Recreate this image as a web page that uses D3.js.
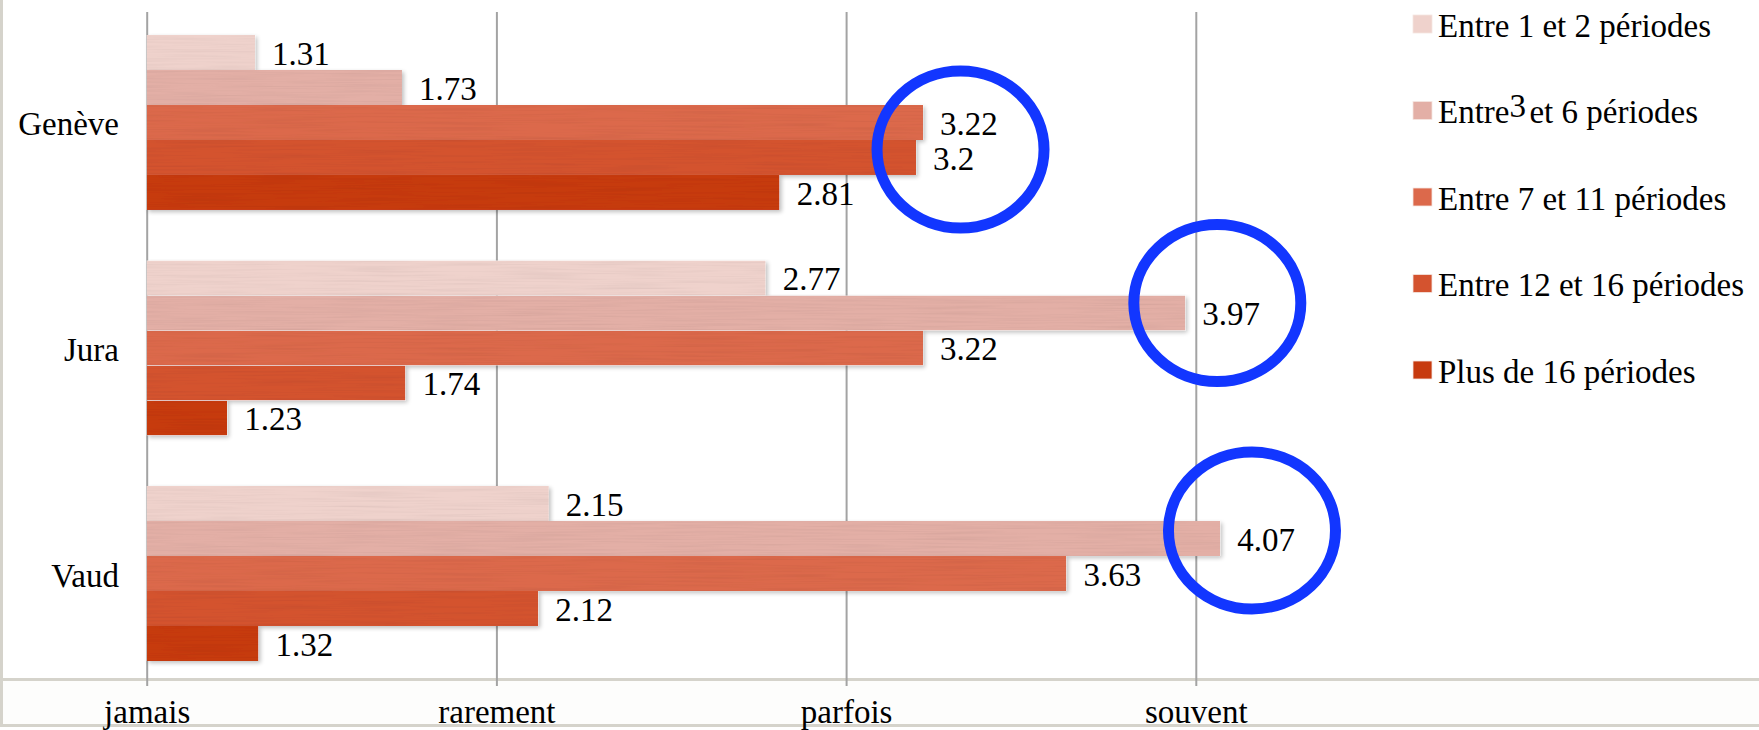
<!DOCTYPE html>
<html>
<head>
<meta charset="utf-8">
<script src="https://cdn.jsdelivr.net/npm/d3@7"></script>
<style>
  html, body { margin: 0; padding: 0; background: #ffffff; }
  svg { display: block; }
  text { font-family: "Liberation Serif", "Times New Roman", serif; fill: #000; }
</style>
</head>
<body>
<svg id="chart" width="1759" height="730"></svg>
<script>
// ---------- data ----------
const categories = ["Genève", "Jura", "Vaud"];
const seriesNames = [
  "Entre 1 et 2 périodes",
  "Entre 3 et 6 périodes",
  "Entre 7 et 11 périodes",
  "Entre 12 et 16 périodes",
  "Plus de 16 périodes"
];
const geneveValues = [1.31, 1.73, 3.22, 3.2, 2.81];
const juraValues   = [2.77, 3.97, 3.22, 1.74, 1.23];
const vaudValues   = [2.15, 4.07, 3.63, 2.12, 1.32];
const tickValues = [1, 2, 3, 4];
const tickLabels = ["jamais", "rarement", "parfois", "souvent"];
// highlighted (circled) values: category + series indices
const highlightCats = ["Genève", "Jura", "Vaud"];
const highlightSeries = [[2, 3], [1], [1]];

// ---------- styles ----------
const colors = ["#efd2cc", "#e3afa6", "#dc694b", "#d4532f", "#c73a0e"];
const ringColor = "#1236ff";
const ringOffsets = [{dx: 37.5, dy: 44.5}, {dx: 32, dy: 7.5}, {dx: 31.7, dy: 9.5}];

const valuesByCat = { "Genève": geneveValues, "Jura": juraValues, "Vaud": vaudValues };
const rows = categories.map(c => ({ cat: c, values: valuesByCat[c] }));

const svg = d3.select("#chart");
const W = 1759, H = 730;

// defs: wood-like texture + shadow
const defs = svg.append("defs");
const f = defs.append("filter").attr("id", "wood")
  .attr("x", "-5%").attr("y", "-10%").attr("width", "115%").attr("height", "130%");
f.append("feTurbulence").attr("type", "fractalNoise")
  .attr("baseFrequency", "0.012 0.55").attr("numOctaves", 2).attr("seed", 7).attr("result", "noise");
f.append("feColorMatrix").attr("in", "noise").attr("type", "saturate").attr("values", 0).attr("result", "g");
const ct = f.append("feComponentTransfer").attr("in", "g").attr("result", "g2");
["feFuncR", "feFuncG", "feFuncB"].forEach(n => ct.append(n).attr("type", "linear").attr("slope", 0.28).attr("intercept", 0.84));
ct.append("feFuncA").attr("type", "linear").attr("slope", 0).attr("intercept", 1);
f.append("feBlend").attr("in", "SourceGraphic").attr("in2", "g2").attr("mode", "multiply").attr("result", "b");
f.append("feComposite").attr("in", "b").attr("in2", "SourceGraphic").attr("operator", "in").attr("result", "tex");
f.append("feGaussianBlur").attr("in", "SourceAlpha").attr("stdDeviation", 2).attr("result", "blur");
f.append("feOffset").attr("in", "blur").attr("dx", 2).attr("dy", 2).attr("result", "off");
f.append("feComponentTransfer").attr("in", "off").attr("result", "sh")
  .append("feFuncA").attr("type", "linear").attr("slope", 0.25);
const m = f.append("feMerge");
m.append("feMergeNode").attr("in", "sh");
m.append("feMergeNode").attr("in", "tex");

// ---------- scales ----------
const x = d3.scaleLinear().domain([1, 4]).range([146.7, 1195.8]);
const y = d3.scaleBand().domain(categories).range([35, 661]).paddingInner(0.224).paddingOuter(0);
const ys = d3.scaleBand().domain(d3.range(seriesNames.length)).range([0, y.bandwidth()]).padding(0);

// ---------- frame lines ----------
const frameColor = "#d5d3cb";
svg.append("rect").attr("x", 0).attr("y", 681).attr("width", W).attr("height", 44).attr("fill", "#fdfdfc");
svg.append("line").attr("x1", 0).attr("x2", W).attr("y1", 679.5).attr("y2", 679.5)
  .attr("stroke", frameColor).attr("stroke-width", 3);
svg.append("line").attr("x1", 0).attr("x2", W).attr("y1", 725.5).attr("y2", 725.5)
  .attr("stroke", frameColor).attr("stroke-width", 3);
svg.append("line").attr("x1", 1.5).attr("x2", 1.5).attr("y1", 0).attr("y2", 727)
  .attr("stroke", frameColor).attr("stroke-width", 3);

// ---------- x axis (grid + labels) ----------
const gridTop = 12, gridBottom = 686;
const xAxis = d3.axisBottom(x)
  .tickValues(tickValues)
  .tickFormat((d, i) => tickLabels[i])
  .tickSize(-(gridBottom - gridTop))
  .tickPadding(0);
const gx = svg.append("g").attr("transform", `translate(0,${gridBottom})`).call(xAxis);
gx.select(".domain").remove();
gx.selectAll(".tick line").attr("stroke", "#a3a3a3").attr("stroke-width", 2);
gx.selectAll(".tick text")
  .attr("y", 37).attr("dy", 0)
  .attr("font-family", "Liberation Serif, serif")
  .attr("font-size", 33).attr("fill", "#000");

// ---------- category labels ----------
svg.append("g").selectAll("text").data(categories).join("text")
  .attr("x", 119)
  .attr("y", d => y(d) + y.bandwidth() / 2 + 13)
  .attr("text-anchor", "end")
  .attr("font-size", 33)
  .text(d => d);

// ---------- bars ----------
const groups = svg.append("g").selectAll("g").data(rows).join("g")
  .attr("transform", d => `translate(0,${y(d.cat)})`);

groups.selectAll("rect").data(d => d.values.map((v, i) => ({ v, i }))).join("rect")
  .attr("x", x(1))
  .attr("y", d => ys(d.i))
  .attr("width", d => x(d.v) - x(1))
  .attr("height", ys.bandwidth())
  .attr("fill", d => colors[d.i])
  .attr("filter", "url(#wood)");

groups.selectAll("text").data(d => d.values.map((v, i) => ({ v, i }))).join("text")
  .attr("x", d => x(d.v) + 17)
  .attr("y", d => ys(d.i) + ys.bandwidth() - 5)
  .attr("font-size", 33)
  .text(d => String(d.v));

// ---------- highlight rings ----------
highlightCats.forEach((cat, k) => {
  const idx = highlightSeries[k];
  const vals = idx.map(i => valuesByCat[cat][i]);
  const cx = x(d3.max(vals)) + ringOffsets[k].dx;
  const cy = y(cat) + ys(idx[0]) + ringOffsets[k].dy;
  svg.append("ellipse")
    .attr("cx", cx).attr("cy", cy)
    .attr("rx", 83.5).attr("ry", 78.5)
    .attr("fill", "none")
    .attr("stroke", ringColor)
    .attr("stroke-width", 11);
});

// ---------- legend ----------
const legend = svg.append("g").attr("transform", "translate(1413,0)");
const legendY = d3.scalePoint().domain(d3.range(seriesNames.length)).range([24, 370]);
const li = legend.selectAll("g").data(seriesNames).join("g")
  .attr("transform", (d, i) => `translate(0,${legendY(i)})`);
li.append("rect")
  .attr("x", 0).attr("y", -9).attr("width", 19).attr("height", 18)
  .attr("fill", (d, i) => colors[i])
  .attr("stroke", "#f4e6e2").attr("stroke-width", 0.8);
li.append("text")
  .attr("x", 25).attr("y", 12.5)
  .attr("font-size", 33)
  .each(function(d, i) {
    const t = d3.select(this);
    if (i === 1) {
      const parts = d.split(" 3 ");
      t.append("tspan").text(parts[0]);
      t.append("tspan").attr("dy", -6).text("3");
      t.append("tspan").attr("dy", 6).attr("dx", 3.5).text(parts[1]);
    } else {
      t.text(d);
    }
  });
</script>
</body>
</html>
